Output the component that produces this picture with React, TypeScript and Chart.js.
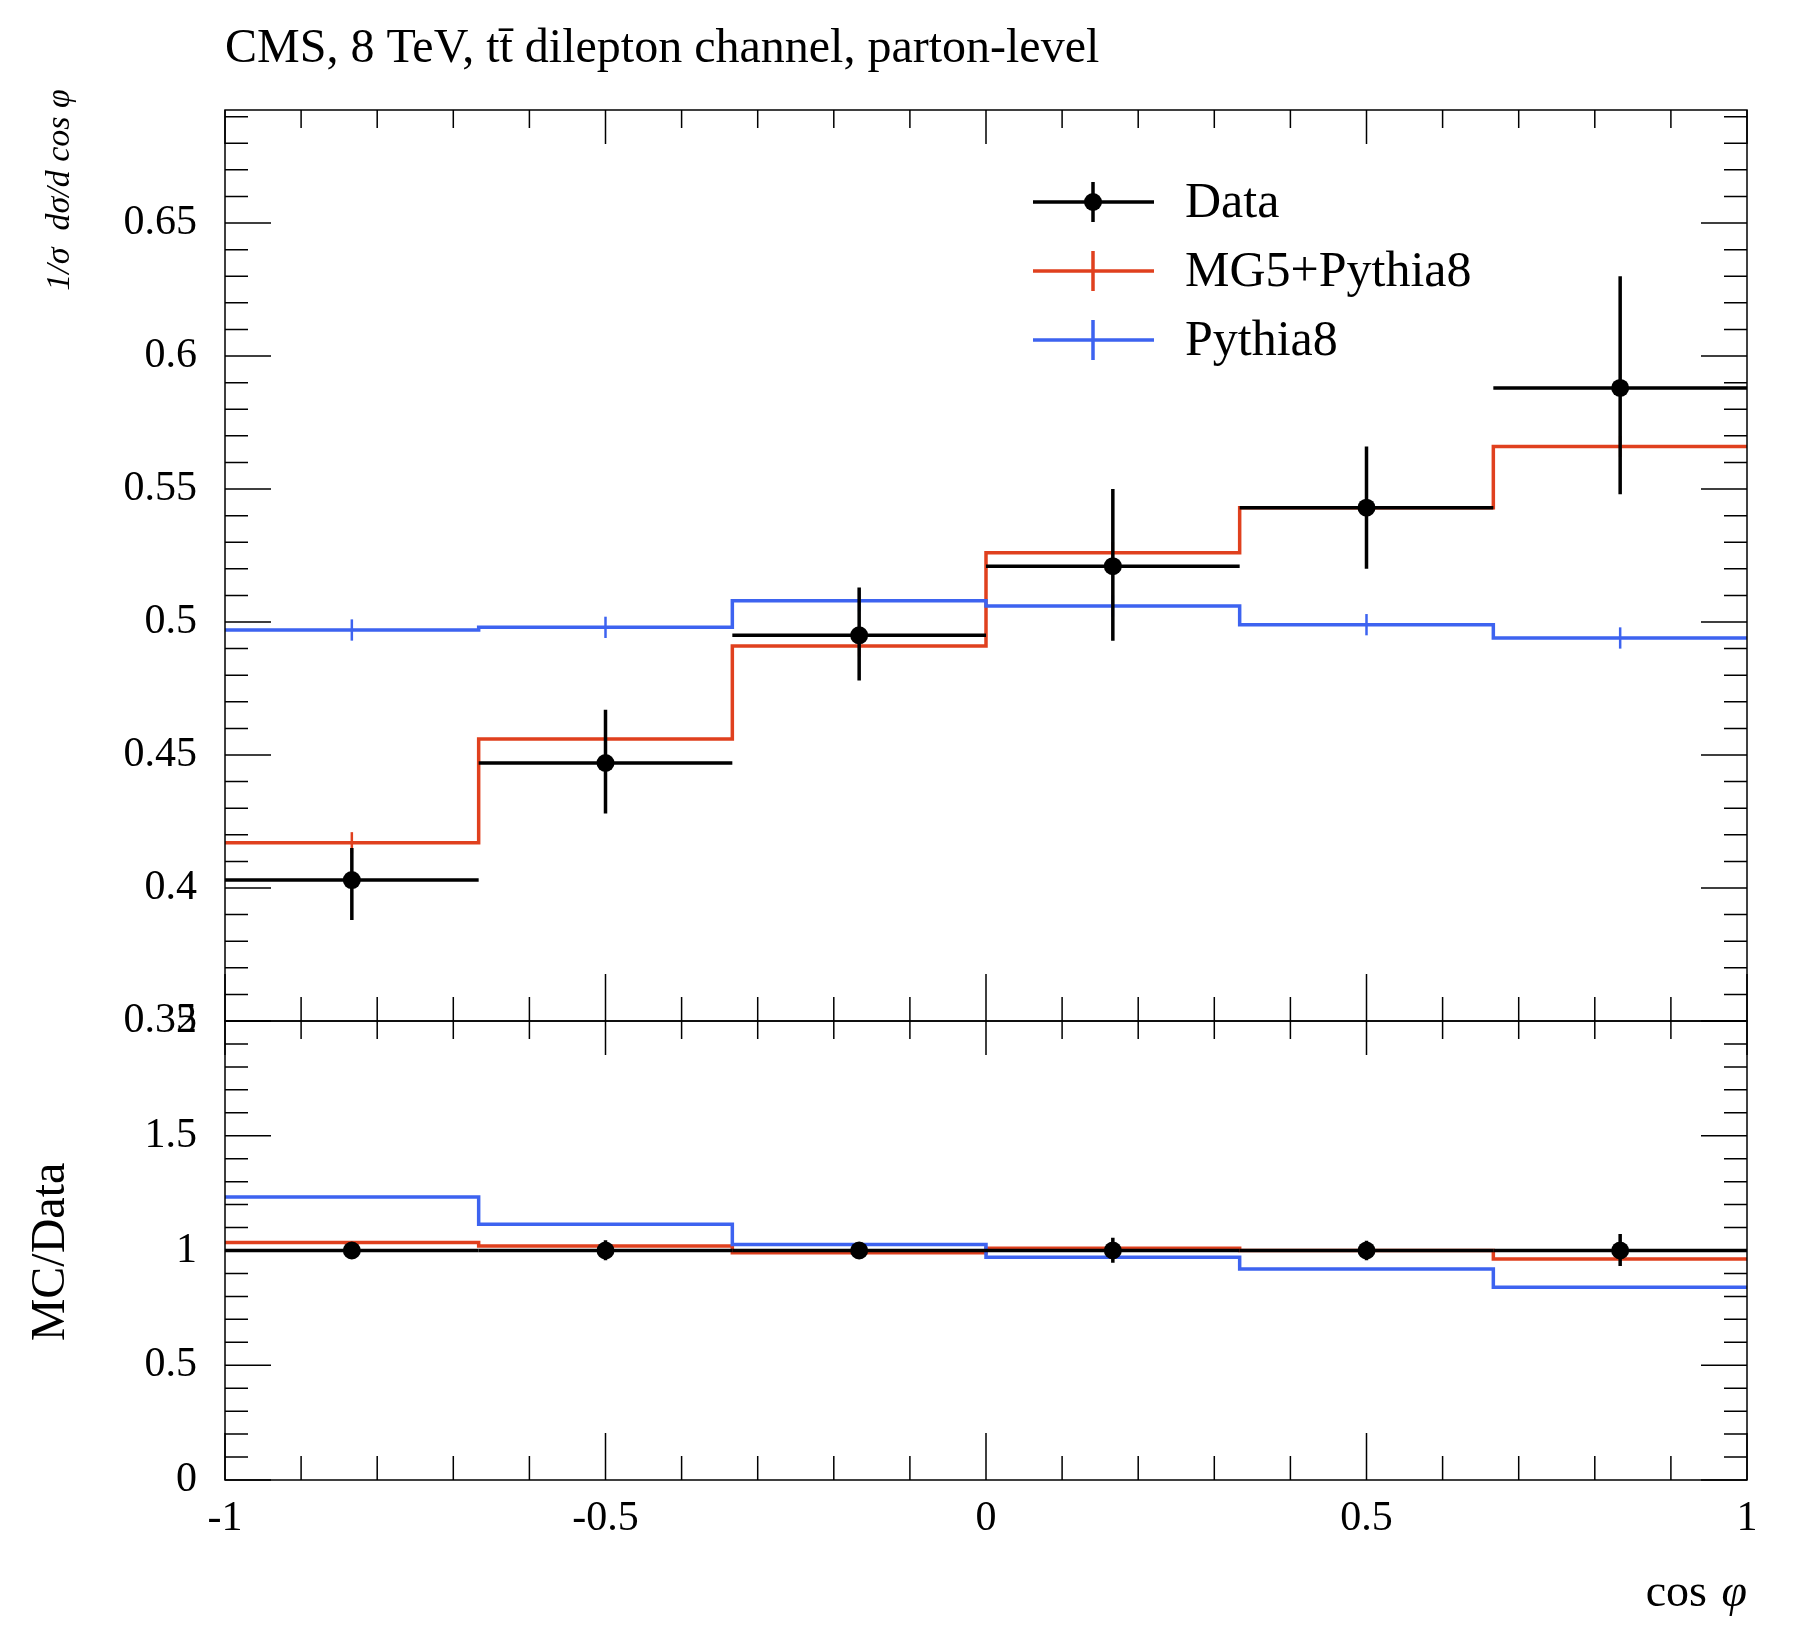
import { useEffect, useRef } from 'react';
import { Chart, registerables } from 'chart.js';

Chart.register(...registerables);

const edges = [-1, -2 / 3, -1 / 3, 0, 1 / 3, 2 / 3, 1];
const centers = [-5 / 6, -0.5, -1 / 6, 1 / 6, 0.5, 5 / 6];
const dataVals = [0.403, 0.447, 0.495, 0.521, 0.543, 0.588];
const dataUp = [0.415, 0.467, 0.513, 0.550, 0.566, 0.630];
const dataDown = [0.388, 0.428, 0.478, 0.493, 0.520, 0.548];
const mgVals = [0.417, 0.456, 0.491, 0.526, 0.543, 0.566];
const pyVals = [0.497, 0.498, 0.508, 0.506, 0.499, 0.494];
const mgRatio = [1.035, 1.02, 0.99, 1.01, 1.0, 0.963];
const pyRatio = [1.233, 1.114, 1.026, 0.971, 0.919, 0.840];
const xTicks = [-1, -0.5, 0, 0.5, 1];
const xTickLabels = ['-1', '-0.5', '0', '0.5', '1'];
const yTicksTop = [0.35, 0.4, 0.45, 0.5, 0.55, 0.6, 0.65];
const yTickLabelsTop = ['0.35', '0.4', '0.45', '0.5', '0.55', '0.6', '0.65'];
const yTicksRatio = [0, 0.5, 1, 1.5, 2];
const yTickLabelsRatio = ['0', '0.5', '1', '1.5', '2'];

const W = 1810, H = 1636;
const L = 225, R = 1747, TOP = 110, MID = 1021, BOT = 1480;
const FONT = '"Liberation Serif", "DejaVu Serif", serif';
const RED = '#e0401e', BLUE = '#3d63f0';

function stepPoints(vals: number[]) {
  const pts = vals.map((v, i) => ({ x: edges[i], y: v }));
  pts.push({ x: edges[edges.length - 1], y: vals[vals.length - 1] });
  return pts;
}

function frange(a: number, b: number, s: number) {
  const out: number[] = [];
  for (let v = a; v <= b + 1e-9; v += s) out.push(Math.round(v * 1000) / 1000);
  return out;
}

function makeChart(canvas: HTMLCanvasElement, top: boolean) {
  const ymin = top ? 0.35 : 0;
  const ymax = top ? 0.6925 : 2;
  const mc1 = top ? mgVals : mgRatio;
  const mc2 = top ? pyVals : pyRatio;
  const dv = top ? dataVals : dataVals.map(() => 1);
  const du = top ? dataUp : dataUp.map((u, i) => u / dataVals[i]);
  const dd = top ? dataDown : dataDown.map((d, i) => d / dataVals[i]);

  const frame = {
    id: 'frame',
    afterDatasetsDraw(chart: any) {
      const ctx = chart.ctx;
      const a = chart.chartArea;
      const xs = chart.scales.x, ys = chart.scales.y;
      ctx.save();
      // MC small error ticks
      if (top) {
        [[mc1, RED], [mc2, BLUE]].forEach(([vals, col]: any) => {
          ctx.strokeStyle = col;
          ctx.lineWidth = 2.5;
          centers.forEach((c, i) => {
            const x = xs.getPixelForValue(c);
            ctx.beginPath();
            ctx.moveTo(x, ys.getPixelForValue(vals[i] + 0.004));
            ctx.lineTo(x, ys.getPixelForValue(vals[i] - 0.004));
            ctx.stroke();
          });
        });
      }
      // data crosses
      ctx.strokeStyle = '#000';
      ctx.lineWidth = 3.5;
      centers.forEach((c, i) => {
        const y = ys.getPixelForValue(dv[i]);
        ctx.beginPath();
        ctx.moveTo(xs.getPixelForValue(edges[i]), y);
        ctx.lineTo(xs.getPixelForValue(edges[i + 1]), y);
        ctx.moveTo(xs.getPixelForValue(c), ys.getPixelForValue(du[i]));
        ctx.lineTo(xs.getPixelForValue(c), ys.getPixelForValue(dd[i]));
        ctx.stroke();
        ctx.fillStyle = '#000';
        ctx.beginPath();
        ctx.arc(xs.getPixelForValue(c), y, 9, 0, Math.PI * 2);
        ctx.fill();
      });
      // frame
      ctx.strokeStyle = '#000';
      ctx.lineWidth = 1.5;
      ctx.strokeRect(a.left, a.top, a.right - a.left, a.bottom - a.top);
      // x ticks
      frange(-1, 1, 0.1).forEach((v) => {
        const x = xs.getPixelForValue(v);
        const major = xTicks.some((t) => Math.abs(t - v) < 1e-6);
        const lb = major ? 47 : 24;
        const lt = major ? 34 : 18;
        ctx.beginPath();
        ctx.moveTo(x, a.bottom);
        ctx.lineTo(x, a.bottom - lb);
        ctx.moveTo(x, a.top);
        ctx.lineTo(x, a.top + lt);
        ctx.stroke();
      });
      // y ticks
      const minorStep = top ? 0.01 : 0.1;
      const majors = top ? yTicksTop : yTicksRatio;
      frange(ymin, ymax, minorStep).forEach((v) => {
        const y = ys.getPixelForValue(v);
        const major = majors.some((t) => Math.abs(t - v) < 1e-6);
        const len = major ? 46 : 23;
        ctx.beginPath();
        ctx.moveTo(a.left, y);
        ctx.lineTo(a.left + len, y);
        ctx.moveTo(a.right, y);
        ctx.lineTo(a.right - len, y);
        ctx.stroke();
      });
      // tick labels
      ctx.fillStyle = '#000';
      ctx.font = `42px ${FONT}`;
      ctx.textAlign = 'right';
      ctx.textBaseline = 'middle';
      const labs = top ? yTickLabelsTop : yTickLabelsRatio;
      majors.forEach((t, i) => ctx.fillText(labs[i], a.left - 28, ys.getPixelForValue(t)));
      if (top) {
        ctx.font = `48px ${FONT}`;
        ctx.textAlign = 'left';
        ctx.textBaseline = 'alphabetic';
        ctx.fillText('CMS, 8 TeV, t\u0074\u0304 dilepton channel, parton-level', L, 62);
        // legend
        const rows: [string, string, boolean][] = [
          ['Data', '#000', true],
          ['MG5+Pythia8', RED, false],
          ['Pythia8', BLUE, false],
        ];
        rows.forEach(([txt, col, dot], i) => {
          const y = 202 + i * 69;
          ctx.strokeStyle = col;
          ctx.lineWidth = 3.5;
          ctx.beginPath();
          ctx.moveTo(1033, y);
          ctx.lineTo(1154, y);
          ctx.moveTo(1093, y - 20);
          ctx.lineTo(1093, y + 20);
          ctx.stroke();
          if (dot) {
            ctx.fillStyle = '#000';
            ctx.beginPath();
            ctx.arc(1093, y, 9, 0, Math.PI * 2);
            ctx.fill();
          }
          ctx.fillStyle = '#000';
          ctx.font = `50px ${FONT}`;
          ctx.textBaseline = 'middle';
          ctx.fillText(txt, 1185, y + 2);
        });
        ctx.save();
        ctx.translate(60, 190);
        ctx.rotate(-Math.PI / 2);
        ctx.font = `italic 34px ${FONT}`;
        ctx.textAlign = 'center';
        ctx.fillText('1/σ  dσ/d cos φ', 0, 0);
        ctx.restore();
      } else {
        ctx.textAlign = 'center';
        ctx.textBaseline = 'top';
        xTicks.forEach((t, i) => ctx.fillText(xTickLabels[i], xs.getPixelForValue(t), a.bottom + 18));
        ctx.textAlign = 'right';
        ctx.textBaseline = 'alphabetic';
        ctx.font = `46px ${FONT}`;
        ctx.fillText('cos', R - 40, 1606);
        ctx.font = `italic 46px ${FONT}`;
        ctx.fillText('φ', R, 1606);
        ctx.save();
        ctx.translate(64, 1252);
        ctx.rotate(-Math.PI / 2);
        ctx.font = `48px ${FONT}`;
        ctx.textAlign = 'center';
        ctx.fillText('MC/Data', 0, 0);
        ctx.restore();
      }
      ctx.restore();
    },
  };

  return new Chart(canvas, {
    type: 'line',
    data: {
      datasets: [
        { data: stepPoints(mc2), borderColor: BLUE, borderWidth: 3.5, stepped: 'before' as any, pointRadius: 0, fill: false },
        { data: stepPoints(mc1), borderColor: RED, borderWidth: 3.5, stepped: 'before' as any, pointRadius: 0, fill: false },
      ],
    },
    options: {
      animation: false,
      responsive: false,
      events: [],
      layout: {
        padding: top
          ? { left: L, right: W - R, top: TOP, bottom: H - MID }
          : { left: L, right: W - R, top: MID, bottom: H - BOT },
      },
      plugins: { legend: { display: false }, tooltip: { enabled: false } },
      scales: {
        x: { type: 'linear', min: -1, max: 1, display: false },
        y: { type: 'linear', min: ymin, max: ymax, display: false },
      },
    },
    plugins: [frame],
  });
}

export default function App() {
  const topRef = useRef<HTMLCanvasElement>(null);
  const botRef = useRef<HTMLCanvasElement>(null);

  useEffect(() => {
    if (!topRef.current || !botRef.current) return;
    const c1 = makeChart(topRef.current, true);
    const c2 = makeChart(botRef.current, false);
    return () => {
      c1.destroy();
      c2.destroy();
    };
  }, []);

  const style: React.CSSProperties = { position: 'absolute', left: 0, top: 0, width: W, height: H };
  return (
    <div style={{ position: 'absolute', left: 0, top: 0, width: W, height: H, background: '#fff' }}>
      <canvas ref={topRef} width={W} height={H} style={style} />
      <canvas ref={botRef} width={W} height={H} style={style} />
    </div>
  );
}
